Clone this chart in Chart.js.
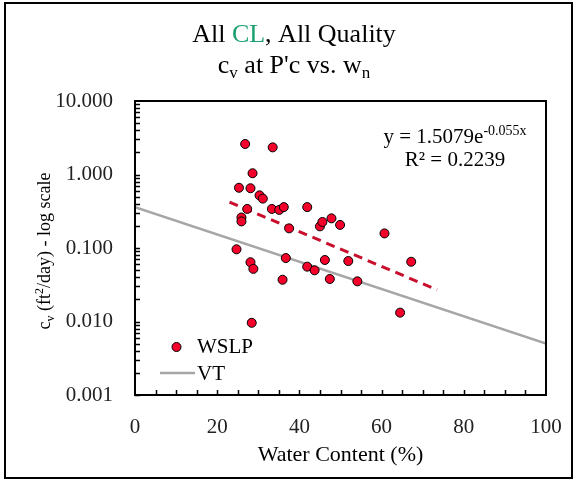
<!DOCTYPE html>
<html><head><meta charset="utf-8">
<script src="https://cdn.jsdelivr.net/npm/chart.js@4/dist/chart.umd.min.js"></script>
<style>html,body{margin:0;padding:0;background:#fff;}#wrap{width:576px;height:482px;}</style>
</head><body><div id="wrap"><canvas id="c" width="576" height="482"></canvas></div>
<script>
// WSLP measurements: water content (%) and cv (ft2/day)
const wslpX = [26.8, 33.5, 28.6, 25.3, 28.1, 30.3, 31.1, 27.3, 33.3, 35.1, 36.2, 41.9, 25.9, 25.9, 37.5, 45.0, 45.6, 47.8, 49.9, 60.7, 41.9, 43.7, 46.2, 51.9, 47.4, 54.1, 67.2, 64.5, 24.7, 28.1, 28.8, 36.7, 35.9, 28.4];
const wslpY = [2.60, 2.34, 1.04, 0.66, 0.65, 0.52, 0.47, 0.34, 0.34, 0.33, 0.36, 0.36, 0.26, 0.23, 0.185, 0.197, 0.226, 0.253, 0.206, 0.158, 0.0557, 0.0497, 0.0687, 0.0665, 0.0379, 0.0352, 0.065, 0.0132, 0.096, 0.064, 0.052, 0.073, 0.037, 0.0096];
// VT reference line
const vtX = [0, 100];
const vtY = [0.36, 0.005];
// exponential trendline of WSLP (read end points)
const trendX = [23, 73.5];
const trendY = [0.42, 0.027];
// tick labels
const xTickLabels = [0, 20, 40, 60, 80, 100];
const yTickLabels = ['0.001', '0.010', '0.100', '1.000', '10.000'];
const seriesNames = ['WSLP', 'VT'];

const SERIF = '"Liberation Serif", "Times New Roman", serif';
const RED = '#F5002A';

function drawPieces(ctx, pieces, x, y, align) {
  let total = 0;
  pieces.forEach(p => { ctx.font = p.size + 'px ' + SERIF; p.w = ctx.measureText(p.t).width; total += p.w; });
  let cx = align === 'center' ? x - total / 2 : x;
  ctx.textBaseline = 'alphabetic';
  ctx.textAlign = 'left';
  pieces.forEach(p => {
    ctx.font = p.size + 'px ' + SERIF;
    ctx.fillStyle = p.color || '#000';
    ctx.fillText(p.t, cx, y + (p.dy || 0));
    cx += p.w;
  });
}

const decor = {
  id: 'decor',
  beforeDraw(chart) {
    const ctx = chart.ctx;
    ctx.save();
    ctx.fillStyle = '#fff';
    ctx.fillRect(0, 0, chart.width, chart.height);
    ctx.restore();
  },
  afterDraw(chart) {
    const ctx = chart.ctx;
    const a = chart.chartArea;
    const xs = chart.scales.x, ys = chart.scales.y;
    ctx.save();
    // outer border
    ctx.strokeStyle = '#000';
    ctx.lineWidth = 2;
    ctx.strokeRect(5, 3, 567, 475);
    // plot frame
    ctx.strokeRect(a.left, a.top, a.right - a.left, a.bottom - a.top);
    // inward ticks
    ctx.lineWidth = 1.5;
    ctx.beginPath();
    for (let e = -3; e < 1; e++) {
      for (let m = 1; m <= 9; m++) {
        const v = m * Math.pow(10, e);
        const py = Math.round(ys.getPixelForValue(v)) + 0.5;
        ctx.moveTo(a.left, py); ctx.lineTo(a.left + 5, py);
      }
    }
    for (let v = 5; v < 100; v += 5) {
      const px = Math.round(xs.getPixelForValue(v)) + 0.5;
      ctx.moveTo(px, a.bottom); ctx.lineTo(px, a.bottom - 5);
    }
    ctx.stroke();
    // title
    drawPieces(ctx, [{t: 'All ', size: 26}, {t: 'CL', size: 26, color: '#1AA06E'}, {t: ', All Quality', size: 26}], 294, 42, 'center');
    drawPieces(ctx, [{t: 'c', size: 26}, {t: 'v', size: 17, dy: 5}, {t: " at P'c vs. w", size: 26}, {t: 'n', size: 17, dy: 5}], 294, 73, 'center');
    // x axis title
    drawPieces(ctx, [{t: 'Water Content (%)', size: 22}], (a.left + a.right) / 2, 461, 'center');
    // y axis title
    ctx.save();
    ctx.translate(50, 251);
    ctx.rotate(-Math.PI / 2);
    drawPieces(ctx, [{t: 'c', size: 18}, {t: 'v', size: 12, dy: 4}, {t: ' (ft', size: 18}, {t: '2', size: 12, dy: -7}, {t: '/day) - log scale', size: 18}], 0, 0, 'center');
    ctx.restore();
    // equation
    drawPieces(ctx, [{t: 'y = 1.5079e', size: 21}, {t: '-0.055x', size: 14, dy: -8}], 455, 143, 'center');
    drawPieces(ctx, [{t: 'R\u00B2 = 0.2239', size: 21}], 455, 166, 'center');
    // legend
    ctx.beginPath();
    ctx.arc(176.5, 347, 4.5, 0, Math.PI * 2);
    ctx.fillStyle = RED; ctx.fill();
    ctx.lineWidth = 1; ctx.strokeStyle = '#000'; ctx.stroke();
    drawPieces(ctx, [{t: seriesNames[0], size: 21}], 197, 353, 'left');
    ctx.beginPath();
    ctx.moveTo(160, 373); ctx.lineTo(195, 373);
    ctx.strokeStyle = '#A6A6A6'; ctx.lineWidth = 2.5; ctx.stroke();
    drawPieces(ctx, [{t: seriesNames[1], size: 21}], 197, 380, 'left');
    ctx.restore();
  }
};

new Chart(document.getElementById('c'), {
  type: 'scatter',
  data: {
    datasets: [
      {
        label: seriesNames[0],
        data: wslpX.map((x, i) => ({x, y: wslpY[i]})),
        backgroundColor: RED, borderColor: '#000', borderWidth: 1,
        pointRadius: 4.5, pointHoverRadius: 4.5, order: 0
      },
      {
        label: 'trend',
        type: 'line',
        data: trendX.map((x, i) => ({x, y: trendY[i]})),
        borderColor: '#C8102E', borderWidth: 3, borderDash: [9, 6],
        pointRadius: 0, fill: false, order: 1
      },
      {
        label: seriesNames[1],
        type: 'line',
        data: vtX.map((x, i) => ({x, y: vtY[i]})),
        borderColor: '#A6A6A6', borderWidth: 2.5,
        pointRadius: 0, fill: false, order: 2
      }
    ]
  },
  options: {
    responsive: false,
    animation: false,
    devicePixelRatio: 1,
    layout: {padding: {top: 101, right: 30, left: 0, bottom: 0}},
    plugins: {legend: {display: false}, title: {display: false}, tooltip: {enabled: false}},
    scales: {
      x: {
        type: 'linear', min: 0, max: 100,
        afterBuildTicks: s => { s.ticks = xTickLabels.map(v => ({value: v})); },
        afterFit: s => { s.height = 87; },
        ticks: {
          callback: (v, i) => String(xTickLabels[i]),
          autoSkip: false, maxRotation: 0, padding: 4,
          font: {family: SERIF, size: 21}, color: '#222'
        },
        grid: {display: true, drawOnChartArea: false, drawTicks: true, tickLength: 16, color: 'rgba(0,0,0,0)'},
        border: {display: false}
      },
      y: {
        type: 'logarithmic', min: 0.001, max: 10,
        afterBuildTicks: s => { s.ticks = yTickLabels.map(t => ({value: parseFloat(t)})); },
        afterFit: s => { s.width = 135; },
        ticks: {
          callback: (v, i) => yTickLabels[i],
          autoSkip: false, padding: 22,
          font: {family: SERIF, size: 21}, color: '#222'
        },
        grid: {display: false, drawTicks: false},
        border: {display: false}
      }
    }
  },
  plugins: [decor]
});
</script>
</body></html>
